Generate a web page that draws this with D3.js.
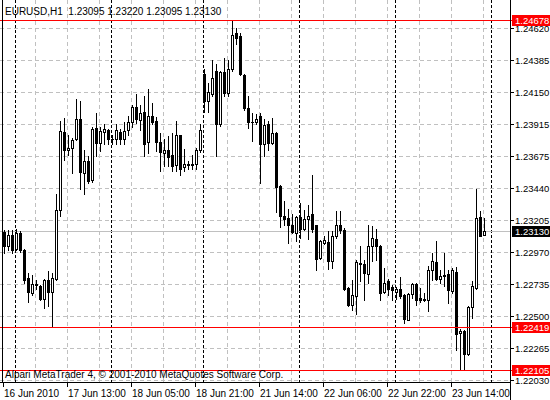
<!DOCTYPE html>
<html>
<head>
<meta charset="utf-8">
<script src="https://cdn.jsdelivr.net/npm/d3@7"></script>
<style>
  html, body { margin: 0; padding: 0; background: #fff; }
  svg { display: block; font-family: "Liberation Sans", Arial, sans-serif; font-size: 10px; }
  .plabel, .mlabel { font-size: 9.5px; }
</style>
</head>
<body>
<svg id="chart" width="550" height="400"></svg>
<script>
// EURUSD H1 bars, 16 Jun 2010 21:00 .. 23 Jun 2010 22:00
var symbol = "EURUSD,H1";
var opens = [
  1.23120, 1.23014, 1.23100, 1.22997, 1.23113, 1.22990, 1.22782, 1.22671, 1.22736, 1.22725,
  1.22627, 1.22769, 1.22676, 1.22774, 1.23284, 1.23856, 1.23721, 1.23739, 1.23805, 1.23947,
  1.23555, 1.23645, 1.23500, 1.23886, 1.23775, 1.23853, 1.23868, 1.23805, 1.23805, 1.23853,
  1.23805, 1.23868, 1.23927, 1.24040, 1.23942, 1.24001, 1.23780, 1.23976, 1.23934, 1.23780,
  1.23702, 1.23719, 1.23682, 1.23610, 1.23831, 1.23596, 1.23610, 1.23616, 1.23621, 1.23726,
  1.24283, 1.24082, 1.24136, 1.24307, 1.23910, 1.24298, 1.24143, 1.24322, 1.24585, 1.24560,
  1.24273, 1.24033, 1.23930, 1.23930, 1.23971, 1.23763, 1.23910, 1.23775, 1.23849, 1.23456,
  1.23235, 1.23223, 1.23167, 1.23113, 1.23231, 1.23142, 1.23216, 1.23248, 1.23167, 1.22929,
  1.23039, 1.23044, 1.22904, 1.23088, 1.23174, 1.23137, 1.22708, 1.22585, 1.22646, 1.22892,
  1.22880, 1.22813, 1.23014, 1.23069, 1.23019, 1.22676, 1.22757, 1.22716, 1.22676, 1.22696,
  1.22659, 1.22475, 1.22666, 1.22740, 1.22635, 1.22627, 1.22617, 1.22838, 1.22897, 1.22774,
  1.22806, 1.22813, 1.22683, 1.22826, 1.22377, 1.22394, 1.22222, 1.22568, 1.22708, 1.23231,
  1.23095
];
var highs = [
  1.23137, 1.23137, 1.23132, 1.23142, 1.23125, 1.22997, 1.22819, 1.22799, 1.22769, 1.22732,
  1.22774, 1.22830, 1.22819, 1.23395, 1.23934, 1.23959, 1.23836, 1.23812, 1.24094, 1.24082,
  1.23726, 1.23677, 1.23893, 1.23991, 1.23893, 1.23910, 1.23878, 1.23836, 1.23910, 1.23878,
  1.23927, 1.23971, 1.24057, 1.24131, 1.24057, 1.24123, 1.24168, 1.24070, 1.23967, 1.23849,
  1.23800, 1.23829, 1.23844, 1.23934, 1.23836, 1.23733, 1.23640, 1.23689, 1.23739, 1.23910,
  1.24315, 1.24217, 1.24388, 1.24352, 1.24307, 1.24401, 1.24388, 1.24678, 1.24622, 1.24585,
  1.24283, 1.24118, 1.23996, 1.23984, 1.23991, 1.23947, 1.23939, 1.23961, 1.23858, 1.23468,
  1.23346, 1.23290, 1.23248, 1.23240, 1.23334, 1.23284, 1.23321, 1.23535, 1.23174, 1.23058,
  1.23088, 1.23125, 1.23125, 1.23272, 1.23272, 1.23150, 1.22714, 1.22769, 1.22916, 1.23014,
  1.22916, 1.23167, 1.23162, 1.23142, 1.23027, 1.22855, 1.22774, 1.22732, 1.22716, 1.22789,
  1.22662, 1.22671, 1.22745, 1.22744, 1.22708, 1.22671, 1.22867, 1.22966, 1.23056, 1.22838,
  1.22961, 1.22843, 1.22855, 1.22863, 1.22406, 1.22401, 1.22573, 1.22757, 1.23432, 1.23272,
  1.23220
];
var lows = [
  1.22961, 1.22985, 1.22961, 1.22990, 1.22973, 1.22745, 1.22602, 1.22659, 1.22696, 1.22617,
  1.22561, 1.22573, 1.22419, 1.22769, 1.23235, 1.23652, 1.23689, 1.23555, 1.23799, 1.23432,
  1.23395, 1.23481, 1.23485, 1.23677, 1.23714, 1.23763, 1.23763, 1.23763, 1.23763, 1.23763,
  1.23763, 1.23836, 1.23893, 1.23923, 1.23873, 1.23677, 1.23702, 1.23910, 1.23714, 1.23566,
  1.23603, 1.23603, 1.23566, 1.23566, 1.23542, 1.23571, 1.23586, 1.23586, 1.23586, 1.23709,
  1.24004, 1.24004, 1.24118, 1.23677, 1.23898, 1.24118, 1.24118, 1.24302, 1.24499, 1.24273,
  1.24020, 1.23886, 1.23787, 1.23910, 1.23481, 1.23677, 1.23721, 1.23763, 1.23265, 1.23157,
  1.23167, 1.23039, 1.23113, 1.23051, 1.23076, 1.23137, 1.23069, 1.23117, 1.22843, 1.22922,
  1.23034, 1.22848, 1.22855, 1.23076, 1.23113, 1.22690, 1.22578, 1.22548, 1.22512, 1.22757,
  1.22622, 1.22745, 1.22904, 1.22916, 1.22622, 1.22671, 1.22659, 1.22622, 1.22627, 1.22635,
  1.22451, 1.22470, 1.22635, 1.22585, 1.22602, 1.22610, 1.22536, 1.22769, 1.22769, 1.22745,
  1.22720, 1.22598, 1.22671, 1.22254, 1.22105, 1.22112, 1.22217, 1.22487, 1.22701, 1.23088,
  1.23095
];
var closes = [
  1.23014, 1.23100, 1.22990, 1.23113, 1.22990, 1.22769, 1.22676, 1.22740, 1.22740, 1.22627,
  1.22769, 1.22676, 1.22782, 1.23284, 1.23861, 1.23726, 1.23739, 1.23794, 1.23952, 1.23559,
  1.23645, 1.23493, 1.23878, 1.23775, 1.23861, 1.23878, 1.23805, 1.23800, 1.23868, 1.23805,
  1.23861, 1.23927, 1.24040, 1.23952, 1.23991, 1.23763, 1.23976, 1.23927, 1.23780, 1.23706,
  1.23726, 1.23669, 1.23608, 1.23831, 1.23586, 1.23621, 1.23621, 1.23618, 1.23726, 1.23866,
  1.24082, 1.24151, 1.24254, 1.23910, 1.24298, 1.24143, 1.24322, 1.24572, 1.24548, 1.24283,
  1.24033, 1.23930, 1.23928, 1.23954, 1.23763, 1.23903, 1.23775, 1.23844, 1.23452, 1.23240,
  1.23216, 1.23174, 1.23117, 1.23231, 1.23142, 1.23211, 1.23235, 1.23142, 1.22922, 1.23051,
  1.23058, 1.22904, 1.23088, 1.23174, 1.23137, 1.22696, 1.22585, 1.22659, 1.22897, 1.22894,
  1.22819, 1.23019, 1.23076, 1.23014, 1.22671, 1.22745, 1.22696, 1.22690, 1.22701, 1.22651,
  1.22480, 1.22664, 1.22740, 1.22622, 1.22622, 1.22617, 1.22838, 1.22904, 1.22774, 1.22794,
  1.22794, 1.22690, 1.22838, 1.22372, 1.22394, 1.22222, 1.22568, 1.22725, 1.23223, 1.23093,
  1.23130
];

// price scale labels (top to bottom)
var priceTicks = ["1.24620", "1.24385", "1.24150", "1.23915", "1.23675", "1.23440",
                  "1.23205", "1.22970", "1.22735", "1.22500", "1.22265", "1.22030"];

// time scale labels and the bar they sit on
var timeLabels = ["16 Jun 2010", "17 Jun 13:00", "18 Jun 05:00", "18 Jun 21:00",
                  "21 Jun 14:00", "22 Jun 06:00", "22 Jun 22:00", "23 Jun 14:00"];
var timeLabelBars = [0, 16, 32, 48, 64, 80, 96, 112];

// first bar of each new day (period separators)
var daySeparatorBars = [3, 27, 50, 74, 98, 122];

// horizontal lines drawn on the chart
var redLevels = [1.24678, 1.22419, 1.22105];
var bidPrice = 1.23130;

var copyright = "Alpari MetaTrader 4, \u00a9 2001-2010 MetaQuotes Software Corp.";

// ---- layout
var plotRight = 510;   // price axis line column
var plotBottom = 382;  // time axis line row
var barStep = 4;
var gridEvery = 8;     // vertical grid every 8 bars

var svg = d3.select('#chart');

// bar index -> wick column
var x = d3.scaleLinear()
  .domain([0, 1])
  .range([4, 4 + barStep]);

// price -> pixel row
var y = d3.scaleLinear()
  .domain([1.22030, 1.24620])
  .range([380.5, 28.5]);

function row(p) { return Math.floor(y(p)); }

var fmt = d3.format('.5f');
var nBars = opens.length;

var g = svg.append('g').attr('shape-rendering', 'crispEdges');

// horizontal grid
g.selectAll('.hgrid').data(priceTicks).enter()
  .append('line')
  .attr('class', 'hgrid')
  .attr('x1', 0).attr('x2', plotRight)
  .attr('y1', function (d) { return row(+d) + 0.5; })
  .attr('y2', function (d) { return row(+d) + 0.5; })
  .attr('stroke', '#c0c0c0')
  .attr('stroke-dasharray', '4,3');

// vertical grid
var gridBars = d3.range(gridEvery, 126, gridEvery);
g.selectAll('.vgrid').data(gridBars).enter()
  .append('line')
  .attr('class', 'vgrid')
  .attr('x1', function (d) { return x(d) - 0.5; })
  .attr('x2', function (d) { return x(d) - 0.5; })
  .attr('y1', 0).attr('y2', plotBottom)
  .attr('stroke', '#c0c0c0')
  .attr('stroke-dasharray', '4,3');

// period separators
g.selectAll('.sep').data(daySeparatorBars).enter()
  .append('line')
  .attr('class', 'sep')
  .attr('x1', function (d) { return x(d) - 0.5; })
  .attr('x2', function (d) { return x(d) - 0.5; })
  .attr('y1', 0).attr('y2', plotBottom)
  .attr('stroke', '#000')
  .attr('stroke-dasharray', '3,2');

// bid line
g.append('line')
  .attr('x1', 0).attr('x2', plotRight)
  .attr('y1', row(bidPrice) + 0.5).attr('y2', row(bidPrice) + 0.5)
  .attr('stroke', '#c0c0c0');

// candles
var idx = d3.range(nBars);
var candles = g.selectAll('.candle').data(idx).enter()
  .append('g')
  .attr('class', 'candle');

// wick
candles.append('rect')
  .attr('x', function (i) { return x(i); })
  .attr('width', 1)
  .attr('y', function (i) { return row(highs[i]); })
  .attr('height', function (i) { return row(lows[i]) - row(highs[i]) + 1; })
  .attr('fill', '#000');

// body: white outlined when up, solid black when down
candles.append('rect')
  .attr('x', function (i) { return closes[i] >= opens[i] ? x(i) - 0.5 : x(i) - 1; })
  .attr('width', function (i) { return closes[i] >= opens[i] ? 2 : 3; })
  .attr('y', function (i) {
    var top = row(Math.max(opens[i], closes[i]));
    return closes[i] >= opens[i] ? top + 0.5 : top;
  })
  .attr('height', function (i) {
    var h = row(Math.min(opens[i], closes[i])) - row(Math.max(opens[i], closes[i]));
    return closes[i] >= opens[i] ? Math.max(h, 1) : h + 1;
  })
  .attr('fill', function (i) { return closes[i] >= opens[i] ? '#fff' : '#000'; })
  .attr('stroke', function (i) { return closes[i] >= opens[i] ? '#000' : 'none'; });

// red horizontal lines
g.selectAll('.level').data(redLevels).enter()
  .append('line')
  .attr('class', 'level')
  .attr('x1', 0).attr('x2', plotRight + 2)
  .attr('y1', function (d) { return row(d) + 0.5; })
  .attr('y2', function (d) { return row(d) + 0.5; })
  .attr('stroke', '#ff0000');

// left frame, axes
g.append('line')
  .attr('x1', 2.5).attr('x2', 2.5).attr('y1', 0).attr('y2', plotBottom)
  .attr('stroke', '#000');
g.append('line')
  .attr('x1', plotRight + 0.5).attr('x2', plotRight + 0.5).attr('y1', 0).attr('y2', 400)
  .attr('stroke', '#000');
g.append('line')
  .attr('x1', 0).attr('x2', plotRight + 1).attr('y1', plotBottom + 0.5).attr('y2', plotBottom + 0.5)
  .attr('stroke', '#000');

// price axis
var pAxis = svg.append('g');
pAxis.selectAll('.ptick').data(priceTicks).enter()
  .append('line')
  .attr('shape-rendering', 'crispEdges')
  .attr('x1', plotRight + 1).attr('x2', plotRight + 4)
  .attr('y1', function (d) { return row(+d) + 0.5; })
  .attr('y2', function (d) { return row(+d) + 0.5; })
  .attr('stroke', '#000');
pAxis.selectAll('.plabel').data(priceTicks).enter()
  .append('text')
  .attr('class', 'plabel')
  .attr('x', plotRight + 5)
  .attr('y', function (d) { return row(+d) + 4; })
  .attr('fill', '#000')
  .text(function (d) { return d; });

// price markers (red levels + bid)
var markers = redLevels.map(function (p) { return { p: p, fill: '#ff0000' }; });
markers.push({ p: bidPrice, fill: '#000' });
var mk = pAxis.selectAll('.marker').data(markers).enter().append('g');
mk.append('rect')
  .attr('shape-rendering', 'crispEdges')
  .attr('x', plotRight + 2).attr('width', 38)
  .attr('y', function (d) { return row(d.p) - 5; })
  .attr('height', 11)
  .attr('fill', function (d) { return d.fill; });
mk.append('text')
  .attr('class', 'mlabel')
  .attr('x', plotRight + 5)
  .attr('y', function (d) { return row(d.p) + 4; })
  .attr('fill', '#fff')
  .text(function (d) { return fmt(d.p); });

// time axis
var tAxis = svg.append('g');
tAxis.selectAll('.ttick').data(timeLabelBars).enter()
  .append('line')
  .attr('shape-rendering', 'crispEdges')
  .attr('x1', function (d) { return x(d) - 0.5; })
  .attr('x2', function (d) { return x(d) - 0.5; })
  .attr('y1', plotBottom + 1).attr('y2', plotBottom + 5)
  .attr('stroke', '#000');
tAxis.selectAll('.tlabel').data(timeLabels).enter()
  .append('text')
  .attr('x', function (d, i) { return x(timeLabelBars[i]); })
  .attr('y', 397)
  .attr('fill', '#000')
  .text(function (d) { return d; });

// header and footer
var last = nBars - 1;
svg.append('text')
  .attr('x', 5).attr('y', 15)
  .attr('fill', '#000')
  .attr('xml:space', 'preserve')
  .text(symbol + '  ' + [opens[last], highs[last], lows[last], closes[last]].map(fmt).join(' '));

svg.append('text')
  .attr('x', 5).attr('y', 378)
  .attr('fill', '#000')
  .text(copyright);
</script>
</body>
</html>
